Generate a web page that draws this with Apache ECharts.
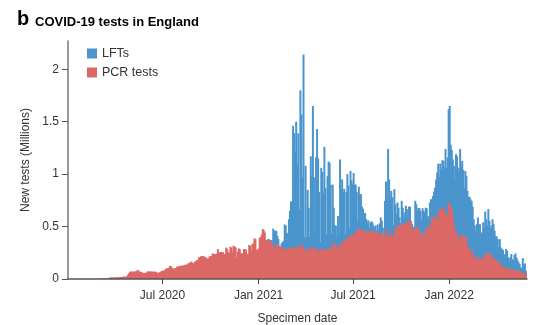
<!DOCTYPE html>
<html><head><meta charset="utf-8">
<script src="https://cdn.jsdelivr.net/npm/echarts@6/dist/echarts.min.js"></script>
<style>html,body{margin:0;padding:0;background:#fff}#c{width:539px;height:325px}</style>
</head><body><div id="c"></div>
<script>
// ---- data (values in millions of tests, one value per 2-day step) ----
const pcrStart = [2020, 2, 1];   // year, month(0-based), day
const lftStart = [2021, 0, 15];
const stepDays = 2;

const pcrTests = [
0.003,0.003,0.004,0.003,0.004,0.003,0.004,0.004,0.003,0.004,
0.012,0.014,0.015,0.013,0.016,0.015,0.017,0.016,0.015,0.018,
0.017,0.019,0.018,0.022,0.021,0.023,0.022,0.024,0.041,0.055,
0.068,0.072,0.070,0.066,0.074,0.070,0.072,0.086,0.082,0.070,
0.068,0.066,0.057,0.058,0.056,0.060,0.062,0.073,0.072,0.070,
0.070,0.072,0.068,0.071,0.070,0.066,0.060,0.058,0.062,0.066,
0.075,0.079,0.078,0.082,0.095,0.100,0.105,0.104,0.124,0.122,
0.110,0.086,0.100,0.102,0.105,0.118,0.120,0.122,0.125,0.127,
0.126,0.128,0.130,0.137,0.136,0.140,0.152,0.150,0.165,0.162,
0.149,0.150,0.165,0.168,0.181,0.180,0.206,0.205,0.219,0.216,
0.218,0.214,0.206,0.204,0.190,0.195,0.216,0.215,0.220,0.244,
0.240,0.238,0.236,0.240,0.286,0.255,0.252,0.257,0.250,0.256,
0.238,0.236,0.300,0.286,0.254,0.250,0.308,0.300,0.254,0.317,
0.310,0.300,0.206,0.260,0.292,0.285,0.244,0.246,0.242,0.286,
0.282,0.280,0.238,0.240,0.324,0.318,0.263,0.333,0.340,0.387,
0.380,0.276,0.280,0.290,0.390,0.400,0.422,0.476,0.465,0.444,
0.371,0.290,0.370,0.360,0.350,0.360,0.350,0.290,0.290,0.300,
0.330,0.330,0.320,0.300,0.300,0.310,0.290,0.280,0.280,0.270,
0.290,0.290,0.300,0.280,0.290,0.290,0.310,0.280,0.300,0.260,
0.290,0.320,0.300,0.270,0.310,0.330,0.300,0.270,0.250,0.280,
0.27,0.29,0.25,0.30,0.28,0.29,0.31,0.27,0.26,0.29,
0.27,0.23,0.28,0.27,0.29,0.27,0.26,0.28,0.29,0.27,
0.28,0.30,0.29,0.28,0.30,0.35,0.33,0.29,0.30,0.27,
0.33,0.32,0.34,0.33,0.35,0.36,0.38,0.37,0.38,0.39,
0.41,0.42,0.40,0.43,0.42,0.41,0.44,0.46,0.47,0.49,
0.47,0.46,0.45,0.47,0.44,0.45,0.46,0.44,0.45,0.46,
0.44,0.45,0.44,0.46,0.43,0.44,0.45,0.43,0.44,0.43,
0.43,0.44,0.42,0.33,0.40,0.48,0.41,0.42,0.40,0.44,
0.43,0.40,0.39,0.41,0.49,0.48,0.50,0.51,0.50,0.52,
0.51,0.52,0.53,0.51,0.53,0.52,0.54,0.56,0.55,0.54,
0.44,0.45,0.49,0.48,0.50,0.49,0.47,0.38,0.44,0.45,
0.43,0.35,0.40,0.46,0.48,0.50,0.49,0.51,0.43,0.59,
0.58,0.59,0.57,0.58,0.52,0.63,0.64,0.68,0.66,0.65,
0.67,0.66,0.59,0.60,0.62,0.73,0.72,0.68,0.67,0.59,
0.52,0.45,0.33,0.44,0.42,0.33,0.36,0.43,0.41,0.40,
0.38,0.41,0.39,0.30,0.29,0.30,0.21,0.23,0.27,0.19,
0.20,0.22,0.175,0.19,0.16,0.21,0.19,0.17,0.20,0.19,
0.24,0.22,0.25,0.23,0.25,0.216,0.23,0.20,0.19,0.20,
0.175,0.16,0.15,0.17,0.16,0.13,0.11,0.12,0.095,0.10,
0.11,0.095,0.10,0.09,0.10,0.085,0.09,0.08,0.08,0.085,
0.07,0.08,0.075,0.08,0.063,0.055,0.06,0.05,0.055,0.045
];

const lftTests = [
0.000,0.020,0.010,0.020,0.020,0.010,0.020,0.190,0.170,0.160,
0.130,0.080,0.060,0.010,0.010,0.030,0.060,0.085,0.240,0.240,
0.150,0.140,0.270,0.370,0.450,0.450,1.15,1.11,0.91,1.24,
0.80,1.07,0.36,1.53,1.26,0.64,1.84,0.13,0.83,0.12,
0.58,0.39,0.15,0.87,0.70,1.36,0.66,0.17,0.90,1.14,
0.88,0.60,0.07,0.79,0.73,0.55,1.00,0.59,0.13,0.71,
0.84,0.81,0.61,0.15,0.60,0.33,0.18,0.22,0.10,0.33,
0.07,0.82,0.51,0.62,0.48,0.50,0.05,0.46,0.62,0.50,
0.08,0.61,0.54,0.47,0.59,0.49,0.46,0.37,0.07,0.39,
0.34,0.35,0.24,0.20,0.18,0.18,0.11,0.10,0.11,0.03,
0.10,0.10,0.10,0.05,0.06,0.07,0.01,0.09,0.03,0.10,
0.157,0.116,0.07,0.005,0.346,0.45,0.336,0.82,0.55,0.34,
0.41,0.38,0.12,0.447,0.224,0.14,0.23,0.17,0.087,0.01,
0.236,0.16,0.105,0.077,0.17,0.147,0.054,0.13,0.14,0.016,
0.084,0.04,0.01,0.266,0.214,0.16,0.206,0.296,0.21,0.12,
0.246,0.30,0.235,0.22,0.196,0.10,0.097,0.22,0.33,0.17,
0.21,0.245,0.303,0.37,0.496,0.47,0.335,0.42,0.388,0.483,
0.457,0.41,0.65,0.457,0.54,0.89,0.93,0.60,0.56,0.55,
0.56,0.50,0.86,0.73,0.596,0.733,0.88,0.66,0.717,0.64,
0.493,0.62,0.594,0.54,0.494,0.484,0.55,0.516,0.42,0.38,
0.31,0.23,0.349,0.397,0.34,0.314,0.24,0.274,0.34,0.30,
0.404,0.35,0.26,0.437,0.306,0.274,0.28,0.37,0.334,0.26,
0.231,0.246,0.23,0.13,0.22,0.17,0.176,0.156,0.111,0.138,
0.176,0.175,0.106,0.085,0.106,0.153,0.10,0.095,0.149,0.159,
0.136,0.10,0.084,0.063,0.048,0.04,0.14,0.093,0.094,0.034
];

const xTickDates = [[2020, 6, 1], [2021, 0, 1], [2021, 6, 1], [2022, 0, 1]];
const yTicks = [0, 0.5, 1, 1.5, 2];
const monthNames = ['Jan','Feb','Mar','Apr','May','Jun','Jul','Aug','Sep','Oct','Nov','Dec'];
const seriesNames = ['LFTs', 'PCR tests'];

// ---- build ----
function ts(d) { return new Date(d[0], d[1], d[2]).getTime(); }
function dateAt(start, k) { return new Date(start[0], start[1], start[2] + stepDays * k).getTime(); }
const pcrPairs = pcrTests.map(function (v, k) { return [dateAt(pcrStart, k), v]; });
// LFT bars sit on top of PCR bars: the LFT layer is drawn from 0 to PCR + LFT,
// and the PCR layer is drawn over it (visually a stacked bar).
const lftOffset = Math.round((ts(lftStart) - ts(pcrStart)) / (86400000 * stepDays));
const stackTopPairs = lftTests.map(function (v, j) {
  return [dateAt(lftStart, j), v + pcrTests[j + lftOffset]];
});

const FONT = '"Liberation Sans", Arial, Helvetica, sans-serif';
const xTicks = xTickDates.map(ts);

const chart = echarts.init(document.getElementById('c'), null, {renderer: 'canvas'});
chart.setOption({
  animation: false,
  backgroundColor: '#fff',
  textStyle: {fontFamily: FONT},
  title: [
    {text: 'b', left: 17, top: 9, padding: 0,
     textStyle: {fontSize: 20, fontWeight: 'bold', color: '#000', fontFamily: FONT}},
    {text: 'COVID-19 tests in England', left: 35, top: 16, padding: 0,
     textStyle: {fontSize: 13, fontWeight: 'bold', color: '#000', fontFamily: FONT}}
  ],
  legend: {
    data: seriesNames, orient: 'vertical', left: 87, top: 47, padding: 0,
    itemWidth: 10, itemHeight: 10, itemGap: 6, icon: 'rect', itemStyle: {borderWidth: 0},
    textStyle: {fontSize: 12.5, color: '#333', fontFamily: FONT}
  },
  grid: {left: 68, right: 12, top: 41, bottom: 46, containLabel: false, outerBoundsMode: 'none'},
  xAxis: {
    type: 'value', min: ts([2020, 0, 2]), max: ts([2022, 4, 30]), z: 5, scale: true,
    name: 'Specimen date', nameLocation: 'middle', nameGap: 34,
    nameTextStyle: {fontSize: 12, color: '#333', fontFamily: FONT},
    axisLine: {lineStyle: {color: '#555', width: 1.5}},
    axisTick: {show: true, customValues: xTicks, length: 5, lineStyle: {color: '#444'}},
    axisLabel: {customValues: xTicks, fontSize: 12, color: '#333', margin: 11, fontFamily: FONT,
      formatter: function (v) { const d = new Date(v); return monthNames[d.getMonth()] + ' ' + d.getFullYear(); }},
    splitLine: {show: false}
  },
  yAxis: {
    type: 'value', min: 0, max: 2.27,
    name: 'New tests (Millions)', nameLocation: 'middle', nameGap: 24, nameRotate: 90,
    nameTextStyle: {fontSize: 12, color: '#333', fontFamily: FONT},
    axisLine: {show: true, lineStyle: {color: '#777', width: 1.5}},
    axisTick: {show: true, customValues: yTicks, length: 6, lineStyle: {color: '#555'}},
    axisLabel: {customValues: yTicks, fontSize: 12, color: '#333', margin: 9, fontFamily: FONT},
    splitLine: {show: false}
  },
  series: [
    {name: 'LFTs', type: 'bar', barWidth: 2, barGap: '-100%',
     data: stackTopPairs, itemStyle: {color: '#4b95cd'}},
    {name: 'PCR tests', type: 'bar', barWidth: 2, barGap: '-100%',
     data: pcrPairs, itemStyle: {color: '#dc6866'}}
  ]
});
</script>
</body></html>
